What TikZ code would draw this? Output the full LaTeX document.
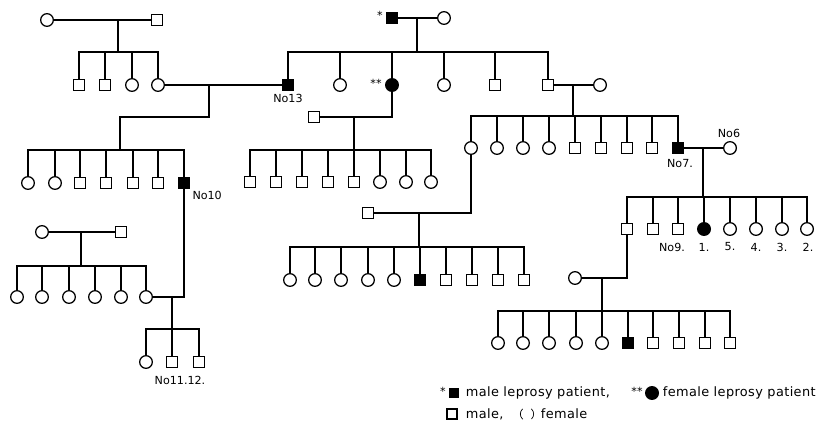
\documentclass[tikz,border=0pt]{standalone}
\usepackage{fontspec}
\setmainfont{DejaVu Sans}
\newfontfamily\legfont[LetterSpace=3]{DejaVu Sans}
\usetikzlibrary{positioning}

\begin{document}
\begin{tikzpicture}[
      x=0.03cm, y=-0.03cm,
      line width=1.5pt,
      male/.style={rectangle, draw, minimum size=0.35cm, inner sep=0pt,
      line width=1.1pt},
      female/.style={circle, draw, minimum size=0.38cm, inner sep=0pt,
      line width=1.1pt},
      malep/.style={male, fill=black},
      femalep/.style={female, fill=black},
      lbl/.style={font=\fontsize{9.5}{11}\selectfont, inner sep=1pt},
      leg/.style={font=\legfont\fontsize{11}{13}\selectfont, inner sep=0pt,
      anchor=west}
    ]
    \useasboundingbox (0,0) rectangle (824,423);

    % Top left parents
    \node[female] (pa1) at (47,20) {};
    \node[male] (pa2) at (157,20) {};
    \coordinate (da) at (118,20);
    \coordinate (sa) at (118,52);
    \node[male] (a1) at (79,85) {};
    \node[male] (a2) at (105,85) {};
    \node[female] (a3) at (132,85) {};
    \node[female] (a4) at (158,85) {};
    \draw (pa1) -- (pa2);
    \draw (da) -- (sa);
    \draw (a1) |- (sa) -| (a4);
    \draw (a2) -- (a2 |- sa);
    \draw (a3) -- (a3 |- sa);

    % Top middle parents
    \node[malep] (pb1) at (392,18) {};
    \node[lbl] (st1) at (380,15) {*};
    \node[female] (pb2) at (444,18) {};
    \coordinate (db) at (417,18);
    \coordinate (sb) at (417,52);
    \node[malep] (b1) at (288,85) {};
    \node[female] (b2) at (340,85) {};
    \node[femalep] (b3) at (392,85) {};
    \node[lbl] (st2) at (376,83) {**};
    \node[female] (b4) at (444,85) {};
    \node[male] (b5) at (495,85) {};
    \node[male] (b6) at (548,85) {};
    \node[lbl, below=1pt of b1] (n13) {No13};
    \draw (pb1) -- (pb2);
    \draw (db) -- (sb);
    \draw (b1) |- (sb) -| (b6);
    \draw (b2) -- (b2 |- sb);
    \draw (b3) -- (b3 |- sb);
    \draw (b4) -- (b4 |- sb);
    \draw (b5) -- (b5 |- sb);

    % a4 x No13
    \draw (a4) -- (b1);
    \coordinate (dc) at (209,85);
    \coordinate (sc) at (120,150);
    \draw (dc) -- ++(0,32) -| (sc);
    \node[female] (c1) at (28,183) {};
    \node[female] (c2) at (55,183) {};
    \node[male] (c3) at (80,183) {};
    \node[male] (c4) at (106,183) {};
    \node[male] (c5) at (133,183) {};
    \node[male] (c6) at (158,183) {};
    \node[malep] (c7) at (184,183) {};
    \node[lbl, below right=0pt and 0pt of c7] (n10) {No10};
    \draw (c1) |- (sc) -| (c7);
    \draw (c2) -- (c2 |- sc);
    \draw (c3) -- (c3 |- sc);
    \draw (c4) -- (c4 |- sc);
    \draw (c5) -- (c5 |- sc);
    \draw (c6) -- (c6 |- sc);

    % Lower left parents
    \node[female] (pd1) at (42,232) {};
    \node[male] (pd2) at (121,232) {};
    \coordinate (dd) at (81,232);
    \coordinate (sd) at (81,266);
    \node[female] (d1) at (17,297) {};
    \node[female] (d2) at (42,297) {};
    \node[female] (d3) at (69,297) {};
    \node[female] (d4) at (95,297) {};
    \node[female] (d5) at (121,297) {};
    \node[female] (d6) at (146,297) {};
    \draw (pd1) -- (pd2);
    \draw (dd) -- (sd);
    \draw (d1) |- (sd) -| (d6);
    \draw (d2) -- (d2 |- sd);
    \draw (d3) -- (d3 |- sd);
    \draw (d4) -- (d4 |- sd);
    \draw (d5) -- (d5 |- sd);

    % No10 x d6
    \draw (c7) |- (d6);
    \coordinate (de) at (172,297);
    \coordinate (se) at (172,329);
    \node[female] (e1) at (146,362) {};
    \node[male] (e2) at (172,362) {};
    \node[male] (e3) at (199,362) {};
    \node[lbl] (n11) at (180,380) {No11.12.};
    \draw (de) -- (se);
    \draw (e1) |- (se) -| (e3);
    \draw (e2) -- (e2 |- se);

    % b3 x square
    \node[male] (pf) at (314,117) {};
    \draw (b3) |- (pf);
    \coordinate (df) at (354,117);
    \coordinate (sf) at (354,150);
    \node[male] (f1) at (250,182) {};
    \node[male] (f2) at (276,182) {};
    \node[male] (f3) at (302,182) {};
    \node[male] (f4) at (328,182) {};
    \node[male] (f5) at (354,182) {};
    \node[female] (f6) at (380,182) {};
    \node[female] (f7) at (406,182) {};
    \node[female] (f8) at (431,182) {};
    \draw (df) -- (sf);
    \draw (f1) |- (sf) -| (f8);
    \draw (f2) -- (f2 |- sf);
    \draw (f3) -- (f3 |- sf);
    \draw (f4) -- (f4 |- sf);
    \draw (f5) -- (f5 |- sf);
    \draw (f6) -- (f6 |- sf);
    \draw (f7) -- (f7 |- sf);

    % b6 x circle
    \node[female] (pg) at (600,85) {};
    \draw (b6) -- (pg);
    \coordinate (dg) at (573,85);
    \coordinate (sg) at (573,116);
    \node[female] (g1) at (471,148) {};
    \node[female] (g2) at (497,148) {};
    \node[female] (g3) at (523,148) {};
    \node[female] (g4) at (549,148) {};
    \node[male] (g5) at (575,148) {};
    \node[male] (g6) at (601,148) {};
    \node[male] (g7) at (627,148) {};
    \node[male] (g8) at (652,148) {};
    \node[malep] (g9) at (678,148) {};
    \node[lbl] (n7) at (680,164) {No7.};
    \draw (dg) -- (sg);
    \draw (g1) |- (sg) -| (g9);
    \draw (g2) -- (g2 |- sg);
    \draw (g3) -- (g3 |- sg);
    \draw (g4) -- (g4 |- sg);
    \draw (g5) -- (g5 |- sg);
    \draw (g6) -- (g6 |- sg);
    \draw (g7) -- (g7 |- sg);
    \draw (g8) -- (g8 |- sg);

    % No7 x No6
    \node[female] (ph) at (730,148) {};
    \node[lbl] (n6) at (729,133) {No6};
    \draw (g9) -- (ph);
    \coordinate (dh) at (703,148);
    \coordinate (sh) at (703,197);
    \node[male] (h1) at (627,229) {};
    \node[male] (h2) at (653,229) {};
    \node[male] (h3) at (678,229) {};
    \node[femalep] (h4) at (704,229) {};
    \node[female] (h5) at (730,229) {};
    \node[female] (h6) at (756,229) {};
    \node[female] (h7) at (782,229) {};
    \node[female] (h8) at (807,229) {};
    \node[lbl] (n9) at (672,247) {No9.};
    \node[lbl] (n1) at (704,247) {1.};
    \node[lbl] (n5) at (730,247) {5.};
    \node[lbl] (n4) at (756,247) {4.};
    \node[lbl] (n3) at (782,247) {3.};
    \node[lbl] (n2) at (808,247) {2.};
    \draw (dh) -- (sh);
    \draw (h1) |- (sh) -| (h8);
    \draw (h2) -- (h2 |- sh);
    \draw (h3) -- (h3 |- sh);
    \draw (h4) -- (h4 |- sh);
    \draw (h5) -- (h5 |- sh);
    \draw (h6) -- (h6 |- sh);
    \draw (h7) -- (h7 |- sh);

    % g1 x square
    \node[male] (pi) at (368,213) {};
    \draw (g1) |- (pi);
    \coordinate (di) at (419,213);
    \coordinate (si) at (419,247);
    \node[female] (i1) at (290,280) {};
    \node[female] (i2) at (315,280) {};
    \node[female] (i3) at (341,280) {};
    \node[female] (i4) at (368,280) {};
    \node[female] (i5) at (394,280) {};
    \node[malep] (i6) at (420,280) {};
    \node[male] (i7) at (446,280) {};
    \node[male] (i8) at (472,280) {};
    \node[male] (i9) at (498,280) {};
    \node[male] (i10) at (524,280) {};
    \draw (di) -- (si);
    \draw (i1) |- (si) -| (i10);
    \draw (i2) -- (i2 |- si);
    \draw (i3) -- (i3 |- si);
    \draw (i4) -- (i4 |- si);
    \draw (i5) -- (i5 |- si);
    \draw (i6) -- (i6 |- si);
    \draw (i7) -- (i7 |- si);
    \draw (i8) -- (i8 |- si);
    \draw (i9) -- (i9 |- si);

    % h1 x circle
    \node[female] (pj) at (575,278) {};
    \draw (h1) |- (pj);
    \coordinate (dj) at (602,278);
    \coordinate (sj) at (602,311);
    \node[female] (j1) at (498,343) {};
    \node[female] (j2) at (523,343) {};
    \node[female] (j3) at (549,343) {};
    \node[female] (j4) at (576,343) {};
    \node[female] (j5) at (602,343) {};
    \node[malep] (j6) at (628,343) {};
    \node[male] (j7) at (653,343) {};
    \node[male] (j8) at (679,343) {};
    \node[male] (j9) at (705,343) {};
    \node[male] (j10) at (730,343) {};
    \draw (dj) -- (sj);
    \draw (j1) |- (sj) -| (j10);
    \draw (j2) -- (j2 |- sj);
    \draw (j3) -- (j3 |- sj);
    \draw (j4) -- (j4 |- sj);
    \draw (j5) -- (j5 |- sj);
    \draw (j6) -- (j6 |- sj);
    \draw (j7) -- (j7 |- sj);
    \draw (j8) -- (j8 |- sj);
    \draw (j9) -- (j9 |- sj);

    % Legend
    \node[lbl] (lst1) at (443,391) {*};
    \node[malep, minimum size=0.28cm] (lmp) at (454,393) {};
    \node[leg] (lt1) at (465,393) {male leprosy patient,};
    \node[lbl] (lst2) at (637,391) {**};
    \node[femalep] (lfp) at (652,393) {};
    \node[leg] (lt2) at (662,393) {female leprosy patient};
    \node[male, minimum size=0.3cm] (lm) at (452,414) {};
    \node[leg] (lt3) at (465,414) {male,};
    \node[circle, draw, minimum size=0.4cm, inner sep=0pt, line width=0.6pt,
    dash pattern=on 0.349cm off 0.2793cm, dash phase=0.1745cm]
    (lf) at (527,414) {};
    \node[leg] (lt4) at (540,414) {female};

  \end{tikzpicture}
\end{document}
